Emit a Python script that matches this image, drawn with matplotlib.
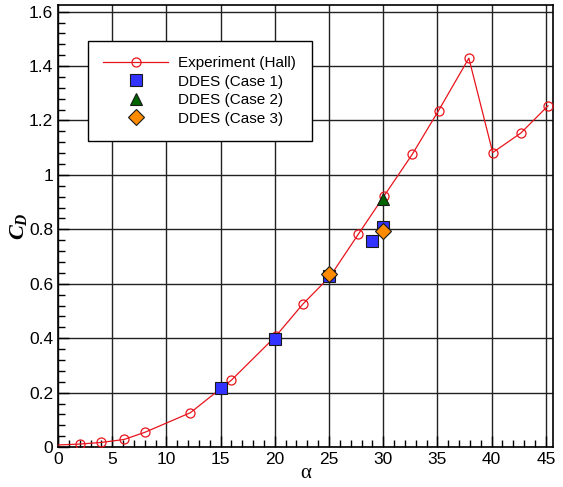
import numpy as np
import matplotlib.pyplot as plt
from matplotlib.ticker import MultipleLocator

# experiment (Hall)
alpha_exp = [-1.0, 2.0, 4.0, 6.1, 8.0, 12.2, 16.0, 20.1, 22.6, 25.1, 27.7, 30.1,
             32.7, 35.1, 37.9, 40.1, 42.7, 45.2]
cd_exp = [0.006, 0.011, 0.017, 0.028, 0.054, 0.126, 0.246, 0.408, 0.526, 0.627,
          0.782, 0.924, 1.077, 1.236, 1.429, 1.082, 1.154, 1.254]

# DDES runs
alpha_c1 = [15, 20, 25, 29, 30]
cd_c1 = [0.218, 0.398, 0.629, 0.757, 0.808]
alpha_c2 = [30]
cd_c2 = [0.912]
alpha_c3 = [25, 30]
cd_c3 = [0.636, 0.794]

yticklabels = ['0', '0.2', '0.4', '0.6', '0.8', '1', '1.2', '1.4', '1.6']

plt.rcParams['font.family'] = ['Liberation Sans', 'DejaVu Sans']
plt.rcParams['mathtext.fontset'] = 'custom'
plt.rcParams['mathtext.it'] = 'Liberation Serif:italic:bold'
plt.rcParams['mathtext.rm'] = 'Liberation Serif'

fig = plt.figure(figsize=(5.63, 4.87), dpi=100)
ax = fig.add_axes([0.103, 0.082, 0.880, 0.907])

ax.plot(alpha_exp, cd_exp, '-o', color='#e8141c', lw=0.9, ms=6.5, mfc='none',
        mec='#e8141c', mew=0.9, label='Experiment (Hall)', zorder=3)
ax.plot(alpha_c1, cd_c1, 's', ls='none', color='#3333ff', mec='#1a1a1a', mew=0.8,
        ms=8, label='DDES (Case 1)', zorder=4)
ax.plot(alpha_c2, cd_c2, '^', ls='none', color='#006400', mec='#1a1a1a', mew=0.8,
        ms=9, label='DDES (Case 2)', zorder=5)
ax.plot(alpha_c3, cd_c3, 'D', ls='none', color='#ff8c00', mec='#1a1a1a', mew=0.8,
        ms=8, label='DDES (Case 3)', zorder=6)

ax.set_xlim(0, 45.7)
ax.set_ylim(0, 1.623)
ax.xaxis.set_major_locator(MultipleLocator(5))
ax.xaxis.set_minor_locator(MultipleLocator(1))
ax.yaxis.set_minor_locator(MultipleLocator(0.04))
ax.set_yticks(np.arange(0, 1.61, 0.2))
ax.set_yticklabels(yticklabels)
ax.tick_params(which='both', direction='in', top=False, right=False,
               labelsize=12.5, width=1)
ax.tick_params(which='major', length=8)
ax.tick_params(which='minor', length=5)
ax.grid(True, which='major', color='#222222', lw=1)
ax.set_axisbelow(True)
for s in ax.spines.values():
    s.set_linewidth(1.2)

ax.set_xlabel('α', fontsize=15, family='Liberation Serif', labelpad=-2)
ax.set_ylabel(r'$C_D$', fontsize=16, labelpad=0)

leg = ax.legend(loc='upper left', bbox_to_anchor=(0.061, 0.92), borderaxespad=0,
                fontsize=11, frameon=True, fancybox=False, framealpha=1,
                edgecolor='black', handlelength=4.2, borderpad=1.0,
                labelspacing=0.3, handletextpad=0.7)
leg.get_frame().set_linewidth(1)

fig.savefig('out.png', dpi=100)
